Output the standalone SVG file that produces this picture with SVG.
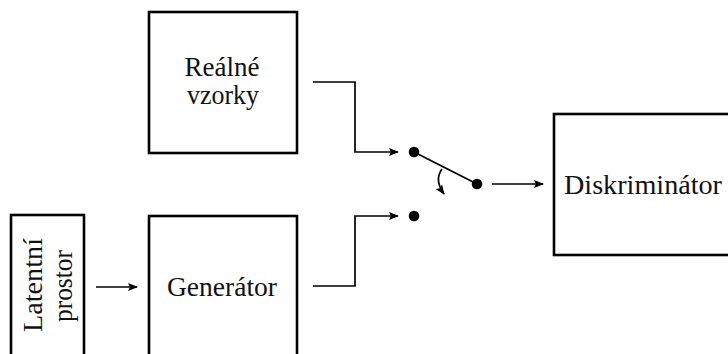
<svg xmlns="http://www.w3.org/2000/svg" width="728" height="354" viewBox="0 0 728 354">
  <style>
    .box { fill: #fff; stroke: #000; stroke-width: 2.6; }
    .lbl { font-family: "Liberation Serif", "DejaVu Serif", serif; font-size: 27px; fill: #111; text-anchor: middle; }
    .wire { fill: none; stroke: #000; stroke-width: 1.7; }
    .pin { fill: #000; }
  </style>
  <defs>
    <marker id="arrow" viewBox="0 0 10 10" refX="9" refY="5" markerWidth="10" markerHeight="10" markerUnits="userSpaceOnUse" orient="auto">
      <path d="M0,1 L10,5 L0,9 L2,5 Z" fill="#000"/>
    </marker>
  </defs>
  <rect width="728" height="354" fill="#fff"/>

  <g id="realne-vzorky">
    <rect class="box" x="149" y="12" width="148" height="141"/>
    <text class="lbl" x="222" y="76" textLength="75" lengthAdjust="spacingAndGlyphs">Reálné</text>
    <text class="lbl" x="223" y="104" textLength="72" lengthAdjust="spacingAndGlyphs">vzorky</text>
  </g>

  <g id="latentni-prostor">
    <rect class="box" x="11" y="215" width="73" height="160"/>
    <text class="lbl" transform="translate(41.5,285) rotate(-90)" textLength="94" lengthAdjust="spacingAndGlyphs">Latentní</text>
    <text class="lbl" transform="translate(72,286) rotate(-90)" textLength="72" lengthAdjust="spacingAndGlyphs">prostor</text>
  </g>

  <g id="generator">
    <rect class="box" x="149" y="216" width="148" height="160"/>
    <text class="lbl" x="222" y="296" textLength="110" lengthAdjust="spacingAndGlyphs">Generátor</text>
  </g>

  <g id="diskriminator">
    <rect class="box" x="554" y="114" width="200" height="141"/>
    <text class="lbl" x="643" y="194" textLength="158" lengthAdjust="spacingAndGlyphs">Diskriminátor</text>
  </g>

  <g id="switch">
    <circle class="pin" cx="414" cy="152" r="5.3"/>
    <circle class="pin" cx="414" cy="216" r="5.3"/>
    <circle class="pin" cx="477" cy="184" r="5.3"/>
    <line class="wire" x1="414" y1="152" x2="477" y2="184" stroke-width="2"/>
  </g>

  <g id="connectors">
    <path class="wire" d="M313,82 H355 V152 H398" marker-end="url(#arrow)"/>
    <path class="wire" d="M313,286 H355 V216 H398" marker-end="url(#arrow)"/>
    <path class="wire" d="M96,287 H137" marker-end="url(#arrow)"/>
    <path class="wire" d="M492,184 H543" marker-end="url(#arrow)"/>
    <path class="wire" d="M442,169 Q434,180 444,194" marker-end="url(#arrow)"/>
  </g>
</svg>
